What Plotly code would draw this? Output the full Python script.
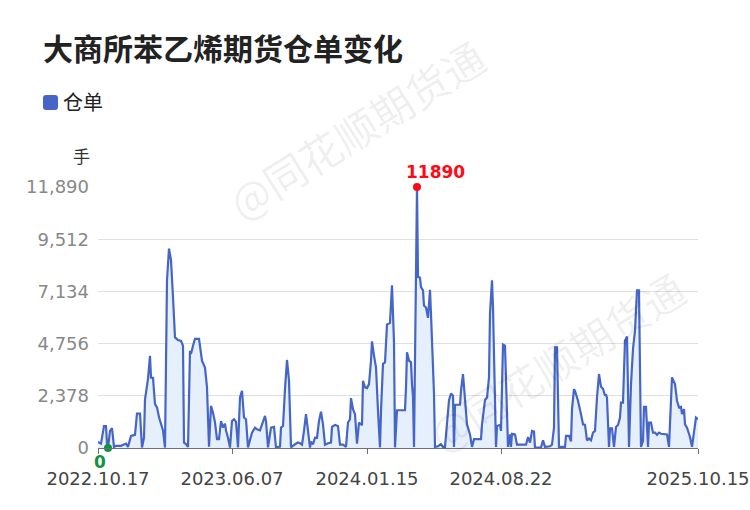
import plotly.graph_objects as go

# ---- data ----
session_idx = [0, 3, 6, 8, 9, 10, 12, 14, 16, 18, 23, 28, 30, 33, 37, 39, 42, 44, 46, 47,
               50, 52, 53, 55, 57, 59, 61, 65, 67, 69, 71, 73, 75, 77, 80, 83, 85, 86, 88, 90,
               92, 93, 95, 97, 101, 104, 107, 109, 111, 113, 115, 117, 119, 121, 123, 125, 127, 128, 130, 132,
               134, 136, 138, 140, 142, 144, 146, 148, 150, 152, 154, 157, 159, 162, 164, 167, 168, 170, 173, 176,
               178, 182, 183, 185, 187, 189, 191, 193, 197, 200, 202, 204, 206, 208, 210, 212, 213, 215, 217, 219,
               221, 223, 225, 227, 230, 233, 234, 237, 240, 242, 245, 248, 250, 252, 253, 255, 257, 259, 261, 263,
               264, 265, 267, 269, 271, 273, 274, 276, 278, 280, 282, 283, 285, 287, 289, 292, 294, 296, 297, 299,
               307, 308, 309, 311, 313, 314, 315, 316, 319, 320, 322, 323, 325, 326, 328, 330, 332, 333, 334, 336,
               337, 340, 343, 345, 347, 349, 351, 353, 355, 356, 357, 362, 363, 365, 367, 369, 372, 374, 376, 383,
               384, 387, 389, 391, 392, 394, 395, 397, 398, 399, 402, 403, 405, 407, 409, 410, 412, 413, 414, 417,
               419, 428, 430, 432, 434, 436, 437, 443, 445, 447, 452, 454, 456, 457, 459, 461, 467, 468, 471, 473,
               474, 476, 477, 480, 483, 485, 487, 489, 491, 493, 495, 497, 499, 501, 503, 505, 507, 508, 509, 511,
               512, 514, 516, 518, 520, 522, 523, 525, 527, 529, 530, 531, 533, 535, 537, 538, 539, 541, 542, 543,
               545, 546, 548, 550, 551, 553, 555, 557, 559, 561, 563, 567, 569, 571, 573, 574, 577, 579, 581, 583,
               584, 586, 587, 589, 592, 594, 596, 598, 600]
receipts = [280, 200, 1000, 1000, 200, 0, 780, 900, 50, 100, 100, 200, 50, 550, 600, 1570, 1570, 20, 470, 2200,
            3150, 4200, 3200, 3200, 2000, 1850, 1400, 800, 20, 7640, 9080, 8550, 6870, 5040, 4920, 4880, 4660, 240, 180, 50,
            4430, 4280, 4660, 4970, 4970, 3980, 3670, 2760, 60, 1920, 1610, 1160, 400, 400, 1230, 930, 1110, 800, 470, 20,
            1230, 1310, 1200, 30, 2300, 2600, 1390, 1310, 30, 400, 700, 930, 850, 800, 1080, 1460, 1230, 30, 930, 960,
            30, 60, 930, 1000, 2680, 4010, 3060, 30, 170, 250, 220, 150, 780, 1540, 780, 20, 290, 170, 470, 460,
            1230, 1650, 1080, 150, 220, 250, 960, 1050, 1000, 150, 150, 50, 1160, 1310, 2270, 1770, 1540, 200, 1160, 1080,
            1040, 3060, 2760, 2730, 2910, 3980, 4860, 4210, 3670, 1690, 30, 1690, 3830, 3900, 5620, 5700, 7410, 4820, 30, 1720,
            1720, 2760, 4360, 3980, 3900, 2910, 2330, 50, 11890, 7790, 7760, 7330, 7180, 6490, 6400, 5930, 7210, 6100, 4740, 2470,
            50, 80, 170, 50, 50, 1230, 2180, 2480, 2380, 50, 1970, 1970, 2610, 3370, 2180, 1080, 620, 50, 400, 400,
            1080, 2180, 2300, 3220, 6120, 7640, 6400, 2760, 50, 1000, 1050, 780, 4710, 4660, 2000, 50, 620, 50, 650, 620,
            150, 150, 500, 250, 780, 750, 20, 20, 350, 50, 80, 150, 930, 4590, 4590, 50, 50, 550, 550, 300,
            1770, 2680, 2600, 2150, 1540, 1080, 1050, 350, 430, 350, 700, 780, 2300, 3370, 2790, 2700, 2380, 2450, 2280, 50,
            900, 900, 50, 960, 1050, 1390, 2070, 2070, 4890, 5080, 2640, 50, 2910, 4510, 5350, 6120, 7180, 7180, 1840, 50,
            320, 1870, 1870, 50, 1160, 1160, 700, 700, 600, 700, 650, 650, 620, 50, 2450, 3220, 2910, 2150, 1850, 1870,
            1540, 1770, 1080, 930, 500, 50, 720, 1390, 1320]

tick_sessions = [0, 134, 269, 403, 600]
tick_labels = ["2022.10.17", "2023.06.07", "2024.01.15", "2024.08.22", "2025.10.15"]
y_ticks = [0, 2378, 4756, 7134, 9512, 11890]

title_text = "大商所苯乙烯期货仓单变化"
series_name = "仓单"
unit_text = "手"
watermark = "@同花顺期货通"

FONT = "Noto Sans CJK SC"
NUMFONT = "DejaVu Sans"
LINE = "#4565C8"
FILL = "#E6EFFC"

imax = max(range(len(receipts)), key=lambda i: receipts[i])
imin = min(range(len(receipts)), key=lambda i: receipts[i])

fig = go.Figure()
fig.add_trace(go.Scatter(
    x=session_idx, y=receipts, mode="lines", name=series_name,
    line=dict(color=LINE, width=2.2), fill="tozeroy", fillcolor=FILL,
    showlegend=False, hoverinfo="x+y"))
fig.add_trace(go.Scatter(
    x=[session_idx[imax]], y=[receipts[imax]], mode="markers",
    marker=dict(color="#FF0A14", size=8), showlegend=False, cliponaxis=False))
fig.add_trace(go.Scatter(
    x=[session_idx[imin]], y=[receipts[imin]], mode="markers",
    marker=dict(color="#14913C", size=8), showlegend=False, cliponaxis=False))

W, H = 750, 510
ML, MR, MT, MB = 98, 52, 187, 62

def px_x(p):
    return (p - ML) / (W - ML - MR)

def px_y(p):
    return 1 - (p - MT) / (H - MT - MB)

ann = [
    dict(x=session_idx[imax], y=receipts[imax], xref="x", yref="y", text=str(receipts[imax]),
         showarrow=False, xshift=18, yshift=15,
         font=dict(family=NUMFONT, size=17, color="#FF0A14", weight="bold")),
    dict(x=session_idx[imin], y=receipts[imin], xref="x", yref="y", text=str(receipts[imin]),
         showarrow=False, xshift=-8, yshift=-14,
         font=dict(family=NUMFONT, size=17, color="#14913C", weight="bold")),
    dict(x=px_x(41), y=px_y(47), xref="paper", yref="paper", text=title_text, showarrow=False,
         xanchor="left", yanchor="middle",
         font=dict(family=FONT, size=30, color="#222222", weight="bold")),
    dict(x=px_x(61), y=px_y(102), xref="paper", yref="paper", text=series_name, showarrow=False,
         xanchor="left", yanchor="middle", font=dict(family=FONT, size=20, color="#222222")),
    dict(x=px_x(81), y=px_y(155), xref="paper", yref="paper", text=unit_text, showarrow=False,
         xanchor="center", yanchor="middle", font=dict(family=FONT, size=17, color="#333333")),
    dict(x=px_x(356), y=px_y(128), xref="paper", yref="paper", text=watermark, showarrow=False,
         textangle=-32, xanchor="center", yanchor="middle",
         font=dict(family=FONT, size=42, color="rgba(0,0,0,0.07)")),
    dict(x=px_x(556), y=px_y(360), xref="paper", yref="paper", text=watermark, showarrow=False,
         textangle=-32, xanchor="center", yanchor="middle",
         font=dict(family=FONT, size=42, color="rgba(0,0,0,0.07)")),
]

# rounded legend swatch (paper coordinates)
x0, x1, y0, y1 = px_x(43), px_x(58), px_y(110), px_y(95)
rx = px_x(46) - px_x(43)
ry = px_y(95) - px_y(98)
swatch = (f"M {x0+rx},{y0} L {x1-rx},{y0} Q {x1},{y0} {x1},{y0+ry} L {x1},{y1-ry} "
          f"Q {x1},{y1} {x1-rx},{y1} L {x0+rx},{y1} Q {x0},{y1} {x0},{y1-ry} "
          f"L {x0},{y0+ry} Q {x0},{y0} {x0+rx},{y0} Z")

fig.update_layout(
    width=W, height=H,
    margin=dict(l=ML, r=MR, t=MT, b=MB, autoexpand=False),
    paper_bgcolor="white", plot_bgcolor="white",
    font=dict(family=FONT),
    annotations=ann,
    shapes=[dict(type="path", xref="paper", yref="paper", path=swatch,
                 fillcolor=LINE, line=dict(width=0), layer="above")],
    xaxis=dict(range=[0, 600], tickvals=tick_sessions, ticktext=tick_labels, automargin=False,
               showgrid=False, zeroline=False, showline=True, linecolor="#6E7079", linewidth=1,
               ticks="outside", ticklen=5, tickcolor="#6E7079",
               tickfont=dict(family=NUMFONT, size=18, color="#444444"), ticklabelstandoff=9),
    yaxis=dict(range=[0, 11890], tickvals=y_ticks, tickformat=",", automargin=False,
               showgrid=True, gridcolor="#E0E0E0", gridwidth=1, zeroline=False, showline=False,
               tickfont=dict(family=NUMFONT, size=18, color="#888888"), ticklabelstandoff=8),
)

fig.write_html("out.html", config={"displayModeBar": False},
               post_script="document.body.style.margin='0px';")
